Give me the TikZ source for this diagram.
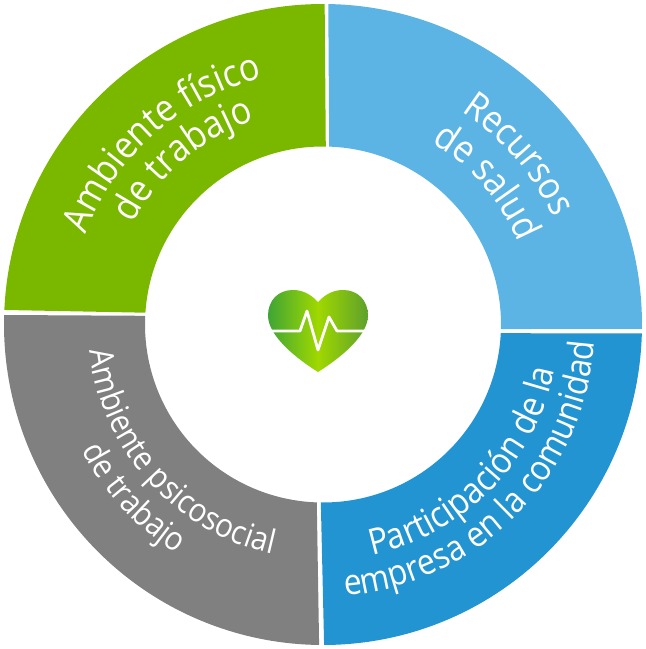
\documentclass[tikz,border=0pt]{standalone}
\usepackage{fontspec}
\setmainfont{Open Sans}[FakeStretch=0.9]
\usetikzlibrary{decorations.text}
\definecolor{cgreen}{HTML}{7AB800}
\definecolor{clight}{HTML}{5CB4E5}
\definecolor{cblue}{HTML}{2394D2}
\definecolor{cgray}{HTML}{808080}
\definecolor{hleft}{HTML}{3FA535}
\definecolor{hmid}{HTML}{A0D800}
\definecolor{hright}{HTML}{5EA02C}
\newcommand{\ringsector}[5]{%
  \fill[#1] (#2:319pt and 320.5pt) arc[start angle=#2,end angle=#3,x radius=319pt,y radius=320.5pt] -- (#5:178pt) arc[start angle=#5,end angle=#4,radius=178pt] -- cycle;}
\newcommand{\arctext}[5]{%
  \path[decorate,decoration={text along path,text align=center,
     text={|\fontsize{#5}{#5}\selectfont\color{white}|#4}}]
     (#1:#3pt) arc[start angle=#1,end angle=#2,radius=#3pt];}
\begin{document}
\begin{tikzpicture}[x=1pt,y=1pt]
\useasboundingbox (-323,-324.5) rectangle (323,324.5);
\ringsector{cgreen}{177.4}{89.7}{176.2}{89.1}
\ringsector{clight}{89.05}{-0.8}{88}{-1.45}
\ringsector{cblue}{-1.6}{-89.8}{-2.8}{-90.7}
\ringsector{cgray}{269.3}{178.3}{268}{177.2}
\arctext{191.5}{71.5}{254}{Ambiente físico}{38}
\arctext{190.3}{70.3}{215}{de trabajo}{38}
\arctext{101}{-19}{254}{Recursos}{37.5}
\arctext{101}{-19}{212}{de salud}{38}
\arctext{-104.5}{15.5}{236}{Participación de la}{36}
\arctext{-104.5}{15.5}{272}{empresa en la comunidad}{35.5}
\arctext{162}{282}{235}{Ambiente psicosocial}{33}
\arctext{162.5}{282.5}{272}{de trabajo}{33}
\shade[left color=hleft,right color=hright,middle color=hmid]
  (-5,22.5) .. controls (-12,30) and (-20,34.5) .. (-30,34.5)
  .. controls (-45,34.5) and (-55,24) .. (-55,9)
  .. controls (-55,-12) and (-25,-35) .. (-5,-47.5)
  .. controls (15,-35) and (45,-12) .. (45,9)
  .. controls (45,24) and (35,34.5) .. (20,34.5)
  .. controls (10,34.5) and (2,30) .. (-5,22.5) -- cycle;
\draw[white,line width=2.8pt,line join=round,line cap=round]
  (-53,-6.5) -- (-23,-6.5) -- (-16,13.5) -- (-5,-25.5) -- (6,7.5) -- (14,-6.5) -- (43,-6.5);
\end{tikzpicture}
\end{document}
